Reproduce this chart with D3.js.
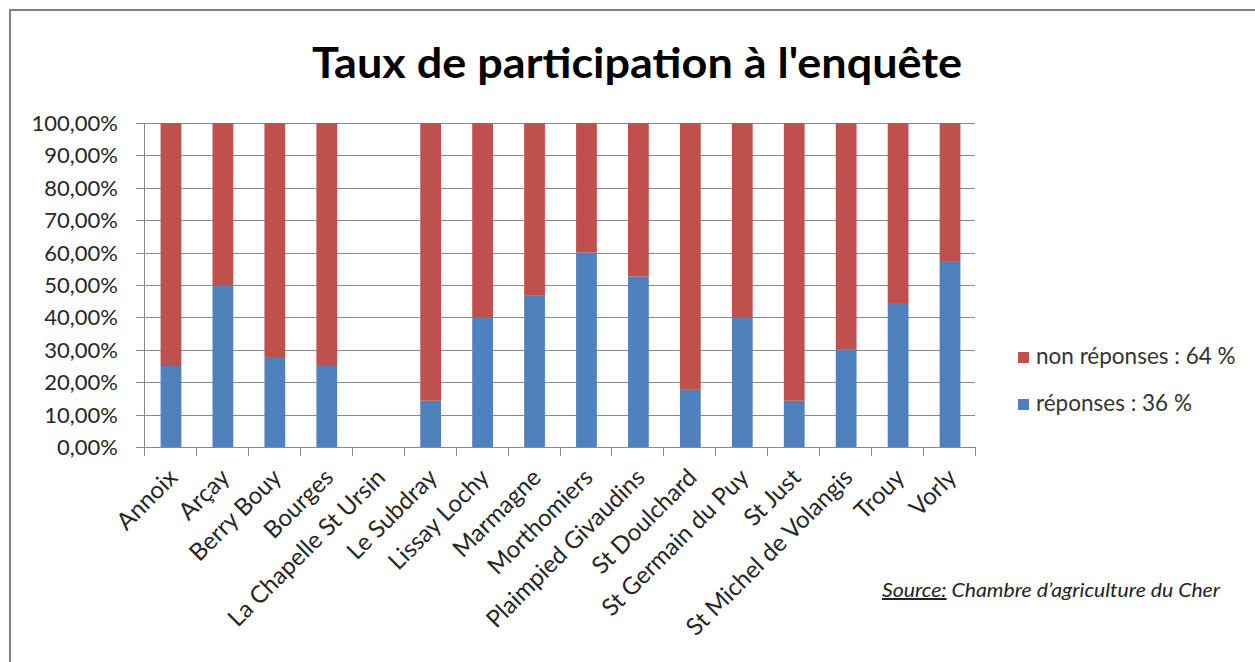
<!DOCTYPE html>
<html>
<head>
<meta charset="utf-8">
<script src="https://cdn.jsdelivr.net/npm/d3@7"></script>
<style>
  html, body { margin: 0; padding: 0; background: #fff; }
  svg { display: block; }
</style>
</head>
<body>
<svg id="chart" width="1255" height="662"></svg>
<script>
const categories = ["Annoix", "Arçay", "Berry Bouy", "Bourges", "La Chapelle St Ursin", "Le Subdray",
  "Lissay Lochy", "Marmagne", "Morthomiers", "Plaimpied Givaudins", "St Doulchard",
  "St Germain du Puy", "St Just", "St Michel de Volangis", "Trouy", "Vorly"];
const reponses = [25, 50, 27.78, 25, 0, 14.29, 40, 46.67, 60, 52.63, 17.65, 40, 14.29, 30, 44.44, 57.14];
const nonReponses = [75, 50, 72.22, 75, 0, 85.71, 60, 53.33, 40, 47.37, 82.35, 60, 85.71, 70, 55.56, 42.86];
const yTicks = [0, 10, 20, 30, 40, 50, 60, 70, 80, 90, 100];
const seriesNames = ["non réponses : 64 %", "réponses : 36 %"];
const titleText = "Taux de participation à l'enquête";

(function () {
const colBlue = "#4F81BD", colRed = "#C0504D";
const font = "Lato, 'Open Sans', sans-serif";

const svg = d3.select("#chart");
svg.append("rect").attr("x", 0).attr("y", 0).attr("width", 1255).attr("height", 662).attr("fill", "#fff");
// outer frame
svg.append("rect").attr("x", 10).attr("y", 10).attr("width", 1260).attr("height", 670)
  .attr("fill", "none").attr("stroke", "#808080").attr("stroke-width", 2);

const pL = 144, pR = 975, pT = 123, pB = 447;
const x = d3.scaleBand().domain(categories).range([pL, pR]).padding(0);
const y = d3.scaleLinear().domain([0, 100]).range([pB, pT]);

// gridlines + y ticks
svg.append("g").selectAll("line").data(yTicks).join("line")
  .attr("x1", pL - 8).attr("x2", pR)
  .attr("y1", d => Math.round(y(d)) + 0.5).attr("y2", d => Math.round(y(d)) + 0.5)
  .attr("stroke", "#8a8a8a").attr("stroke-width", 1);

// y axis line
svg.append("line").attr("x1", pL + 0.5).attr("x2", pL + 0.5).attr("y1", pT).attr("y2", pB)
  .attr("stroke", "#8a8a8a").attr("stroke-width", 1);

// y labels
const fmt = d => d.toFixed(2).replace(".", ",") + "%";
svg.append("g").selectAll("text").data(yTicks).join("text")
  .attr("x", 118).attr("y", d => y(d)).attr("dy", "0.36em")
  .attr("text-anchor", "end").attr("font-family", font).attr("font-size", 22)
  .attr("fill", "#262626").text(fmt);

// bars
const bw = x.bandwidth() * 0.4;
const bars = svg.append("g");
bars.selectAll("rect.b").data(categories).join("rect").attr("class", "b")
  .attr("x", d => x(d) + x.bandwidth() / 2 - bw / 2 + 1)
  .attr("width", bw)
  .attr("y", (d, i) => y(reponses[i]))
  .attr("height", (d, i) => y(0) - y(reponses[i]))
  .attr("fill", colBlue);
bars.selectAll("rect.r").data(categories).join("rect").attr("class", "r")
  .attr("x", d => x(d) + x.bandwidth() / 2 - bw / 2 + 1)
  .attr("width", bw)
  .attr("y", (d, i) => y(reponses[i] + nonReponses[i]))
  .attr("height", (d, i) => y(reponses[i]) - y(reponses[i] + nonReponses[i]))
  .attr("fill", colRed);

// x axis
svg.append("line").attr("x1", pL).attr("x2", pR).attr("y1", pB + 0.5).attr("y2", pB + 0.5)
  .attr("stroke", "#8a8a8a").attr("stroke-width", 1);
const bounds = categories.map(c => x(c)).concat([pR]);
svg.append("g").selectAll("line").data(bounds).join("line")
  .attr("x1", d => Math.round(d) + 0.5).attr("x2", d => Math.round(d) + 0.5)
  .attr("y1", pB).attr("y2", pB + 9)
  .attr("stroke", "#8a8a8a").attr("stroke-width", 1);

// x labels
svg.append("g").selectAll("text").data(categories).join("text")
  .attr("transform", d => `translate(${x(d) + x.bandwidth() / 2 + 9},${pB + 32}) rotate(-45)`)
  .attr("text-anchor", "end").attr("font-family", font).attr("font-size", 24)
  .attr("fill", "#262626").text(d => d);

// title
svg.append("text").attr("x", 637).attr("y", 78).attr("text-anchor", "middle")
  .attr("font-family", font).attr("font-weight", "bold").attr("font-size", 42)
  .attr("textLength", 650).attr("lengthAdjust", "spacingAndGlyphs")
  .attr("fill", "#000").text(titleText);

// legend
const legCols = [colRed, colBlue];
const leg = svg.append("g");
leg.selectAll("rect").data(seriesNames).join("rect")
  .attr("x", 1018).attr("y", (d, i) => 352 + i * 47).attr("width", 11).attr("height", 11)
  .attr("fill", (d, i) => legCols[i]);
leg.selectAll("text").data(seriesNames).join("text")
  .attr("x", 1036).attr("y", (d, i) => 364 + i * 47)
  .attr("font-family", font).attr("font-size", 22.5).attr("fill", "#333")
  .text(d => d);

// source
const src = svg.append("text").attr("x", 882).attr("y", 597)
  .attr("font-family", font).attr("font-style", "italic").attr("font-size", 20).attr("fill", "#222")
  .attr("textLength", 338).attr("lengthAdjust", "spacingAndGlyphs");
src.append("tspan").attr("text-decoration", "underline").text("Source:");
src.append("tspan").text(" Chambre d’agriculture du Cher");
})();
</script>
</body>
</html>
